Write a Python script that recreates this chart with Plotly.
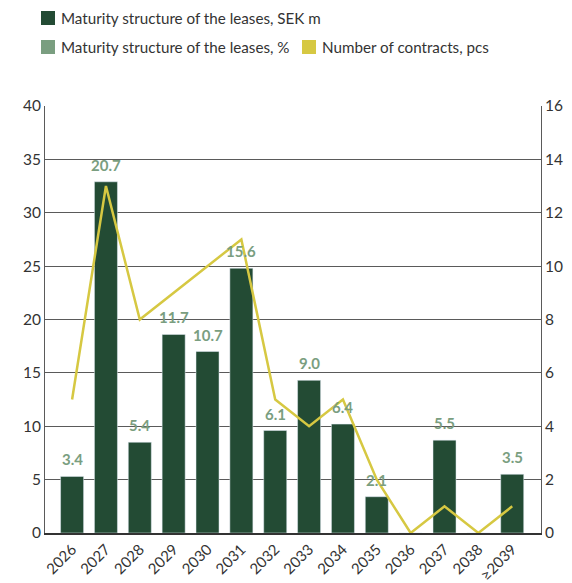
import plotly.graph_objects as go

categories = ["2026", "2027", "2028", "2029", "2030", "2031", "2032", "2033",
              "2034", "2035", "2036", "2037", "2038", "≥2039"]
sek_m = [5.3, 32.9, 8.5, 18.6, 17.0, 24.8, 9.6, 14.3, 10.2, 3.4, 0, 8.7, 0, 5.5]
pct = ["3.4", "20.7", "5.4", "11.7", "10.7", "15.6", "6.1", "9.0", "6.4", "2.1", "", "5.5", "", "3.5"]
contracts = [5, 13, 8, 9, 10, 11, 5, 4, 5, 2, 0, 1, 0, 1]

legend_labels = ["Maturity structure of the leases, SEK m",
                 "Maturity structure of the leases, %",
                 "Number of contracts, pcs"]

BAR = "#234b34"
PCT = "#7a9e80"
LINE = "#d6c842"
TXT = "#333333"
GRID = "#5a5a5a"
FONT = "Lato"

xs = list(range(len(categories)))

fig = go.Figure()
fig.add_trace(go.Bar(x=xs, y=sek_m, marker_color=BAR, width=0.68,
                     showlegend=False, hoverinfo="skip"))
fig.add_trace(go.Scatter(x=xs, y=contracts, mode="lines", yaxis="y2",
                         line=dict(color=LINE, width=2.5), showlegend=False,
                         hoverinfo="skip"))

for xi, v, t in zip(xs, sek_m, pct):
    if t:
        fig.add_annotation(x=xi, y=v, text=t, showarrow=False, yshift=17,
                           font=dict(family=FONT, size=15, color=PCT, weight=700),
                           xref="x", yref="y")

# Manual legend
leg = [(0, 0, BAR, legend_labels[0]),
       (0, 1, PCT, legend_labels[1]),
       (261, 1, LINE, legend_labels[2])]
for dx, row, col, lab in leg:
    x0 = 41 + dx
    y0 = 11 + row * 29
    fig.add_shape(type="rect", xref="paper", yref="paper",
                  x0=(x0 - 45) / 496, x1=(x0 + 14 - 45) / 496,
                  y0=(533 - y0) / 427, y1=(533 - y0 - 14) / 427,
                  fillcolor=col, line=dict(width=0))
    fig.add_annotation(xref="paper", yref="paper", x=(x0 + 18 - 45) / 496,
                       y=(533 - y0 - 7) / 427, text=lab, showarrow=False,
                       xanchor="left", yanchor="middle",
                       font=dict(family=FONT, size=15.2, color=TXT))

fig.update_layout(
    width=572, height=583,
    margin=dict(l=45, r=31, t=106, b=50, autoexpand=False),
    paper_bgcolor="white", plot_bgcolor="white",
    showlegend=False,
    font=dict(family=FONT, size=15, color=TXT),
    xaxis=dict(tickmode="array", tickvals=xs, ticktext=categories,
               range=[-0.8, 13.85], tickangle=-45, showgrid=False,
               showline=True, linecolor=TXT, linewidth=1.5,
               ticks="",
               tickfont=dict(size=15, color=TXT), zeroline=False,
               automargin=False),
    yaxis=dict(range=[0, 40], dtick=5, showgrid=True, gridcolor=GRID,
               gridwidth=1, showline=True, linecolor=GRID, linewidth=1,
               ticks="", tickfont=dict(size=15.5, color=TXT), zeroline=False,
               automargin=False),
    yaxis2=dict(range=[0, 16], dtick=2, overlaying="y", side="right",
                showgrid=False, showline=True, linecolor=GRID, linewidth=1,
                ticks="", tickfont=dict(size=15.5, color=TXT), zeroline=False,
                automargin=False),
)

fig.write_html("out.html")
